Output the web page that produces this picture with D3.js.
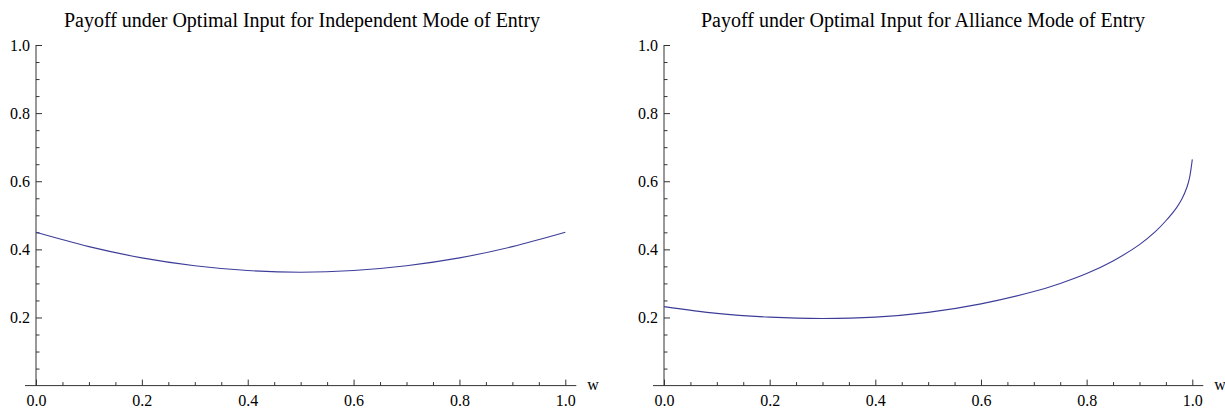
<!DOCTYPE html>
<html>
<head>
<meta charset="utf-8">
<script src="https://cdn.jsdelivr.net/npm/d3@7"></script>
<style>
  html, body { margin: 0; padding: 0; background: #fff; }
  svg { display: block; }
</style>
</head>
<body>
<svg id="chart" width="1225" height="409"></svg>
<script>
// Payoff values sampled along w for each entry mode
const wIndependent = [0, 0.1, 0.2, 0.3, 0.4, 0.5, 0.6, 0.7, 0.8, 0.9, 1.0];
const payoffIndependent = [0.450, 0.408, 0.375, 0.352, 0.338, 0.333, 0.338, 0.352, 0.375, 0.408, 0.450];

const wAlliance = [0, 0.1, 0.2, 0.3, 0.4, 0.5, 0.6, 0.7, 0.75, 0.8, 0.85, 0.9, 0.93, 0.95, 0.97, 0.98, 0.99, 0.995, 1.0];
const payoffAlliance = [0.232, 0.212, 0.201, 0.197, 0.201, 0.215, 0.240, 0.276, 0.300, 0.329, 0.366, 0.414, 0.452, 0.484, 0.522, 0.547, 0.583, 0.612, 0.664];

const titles = [
  "Payoff under Optimal Input for Independent Mode of Entry",
  "Payoff under Optimal Input for Alliance Mode of Entry"
];
const xMajorTicks = [0, 0.2, 0.4, 0.6, 0.8, 1.0];
const xMinorTicks = [0.05, 0.1, 0.15, 0.25, 0.3, 0.35, 0.45, 0.5, 0.55, 0.65, 0.7, 0.75, 0.85, 0.9, 0.95];
const yMajorTicks = [0.2, 0.4, 0.6, 0.8, 1.0];
const yMinorTicks = [0.05, 0.1, 0.15, 0.25, 0.3, 0.35, 0.45, 0.5, 0.55, 0.65, 0.7, 0.75, 0.85, 0.9, 0.95];
const xAxisLabel = "w";

const FONT = "'Liberation Serif', 'Times New Roman', 'DejaVu Serif', serif";
const svg = d3.select("#chart");
const lineColor = "#3d3d99";
const axisColor = "#333";

const panels = [
  { x0: 36, x1: 565.3, titleX: 302, w: wIndependent, v: payoffIndependent, title: titles[0] },
  { x0: 664, x1: 1192.3, titleX: 923, w: wAlliance, v: payoffAlliance, title: titles[1] }
];
const yTop = 45, yBottom = 385.6;

panels.forEach(p => {
  const x = d3.scaleLinear().domain([0, 1]).range([p.x0, p.x1]);
  const y = d3.scaleLinear().domain([0, 1]).range([yBottom, yTop]);
  const g = svg.append("g");

  // panel title
  g.append("text")
    .attr("x", p.titleX)
    .attr("y", 27)
    .attr("text-anchor", "middle")
    .style("font-family", FONT)
    .style("font-size", "20px")
    .style("fill", "#000")
    .text(p.title);

  // extended axis lines
  g.append("line")
    .attr("x1", p.x0 - 11).attr("x2", p.x1 + 11)
    .attr("y1", y(0)).attr("y2", y(0))
    .attr("stroke", axisColor).attr("stroke-width", 1);
  g.append("line")
    .attr("x1", x(0)).attr("x2", x(0))
    .attr("y1", y(1)).attr("y2", y(0))
    .attr("stroke", axisColor).attr("stroke-width", 1);

  // x axis: minor and major ticks pointing up
  const xMinor = g.append("g").attr("transform", `translate(0,${y(0)})`)
    .call(d3.axisBottom(x).tickValues(xMinorTicks).tickSize(-3.5).tickSizeOuter(0).tickFormat(""));
  const xMajor = g.append("g").attr("transform", `translate(0,${y(0)})`)
    .call(d3.axisBottom(x).tickValues(xMajorTicks).tickSize(-6).tickSizeOuter(0).tickPadding(9)
      .tickFormat(d3.format(".1f")));

  // y axis: ticks pointing right, labels on the left
  const yMinor = g.append("g").attr("transform", `translate(${x(0)},0)`)
    .call(d3.axisLeft(y).tickValues(yMinorTicks).tickSize(-3.5).tickSizeOuter(0).tickFormat(""));
  const yMajor = g.append("g").attr("transform", `translate(${x(0)},0)`)
    .call(d3.axisLeft(y).tickValues(yMajorTicks).tickSize(-6).tickSizeOuter(0).tickPadding(6)
      .tickFormat(d3.format(".1f")));

  [xMinor, xMajor, yMinor, yMajor].forEach(a => {
    a.attr("font-family", null).attr("font-size", null);
    a.select(".domain").remove();
    a.selectAll("line").attr("stroke", axisColor);
    a.selectAll("text")
      .style("font-family", FONT)
      .style("font-size", "16px")
      .style("fill", "#000");
  });

  // axis label
  g.append("text")
    .attr("x", p.x1 + 22)
    .attr("y", y(0))
    .attr("dy", "0.25em")
    .style("font-family", FONT)
    .style("font-size", "16px")
    .style("fill", "#000")
    .text(xAxisLabel);

  // payoff curve
  const data = p.w.map((w, i) => [w, p.v[i]]);
  g.append("path")
    .datum(data)
    .attr("fill", "none")
    .attr("stroke", lineColor)
    .attr("stroke-width", 1.1)
    .attr("d", d3.line().x(d => x(d[0])).y(d => y(d[1])).curve(d3.curveCatmullRom.alpha(0.5)));
});
</script>
</body>
</html>
